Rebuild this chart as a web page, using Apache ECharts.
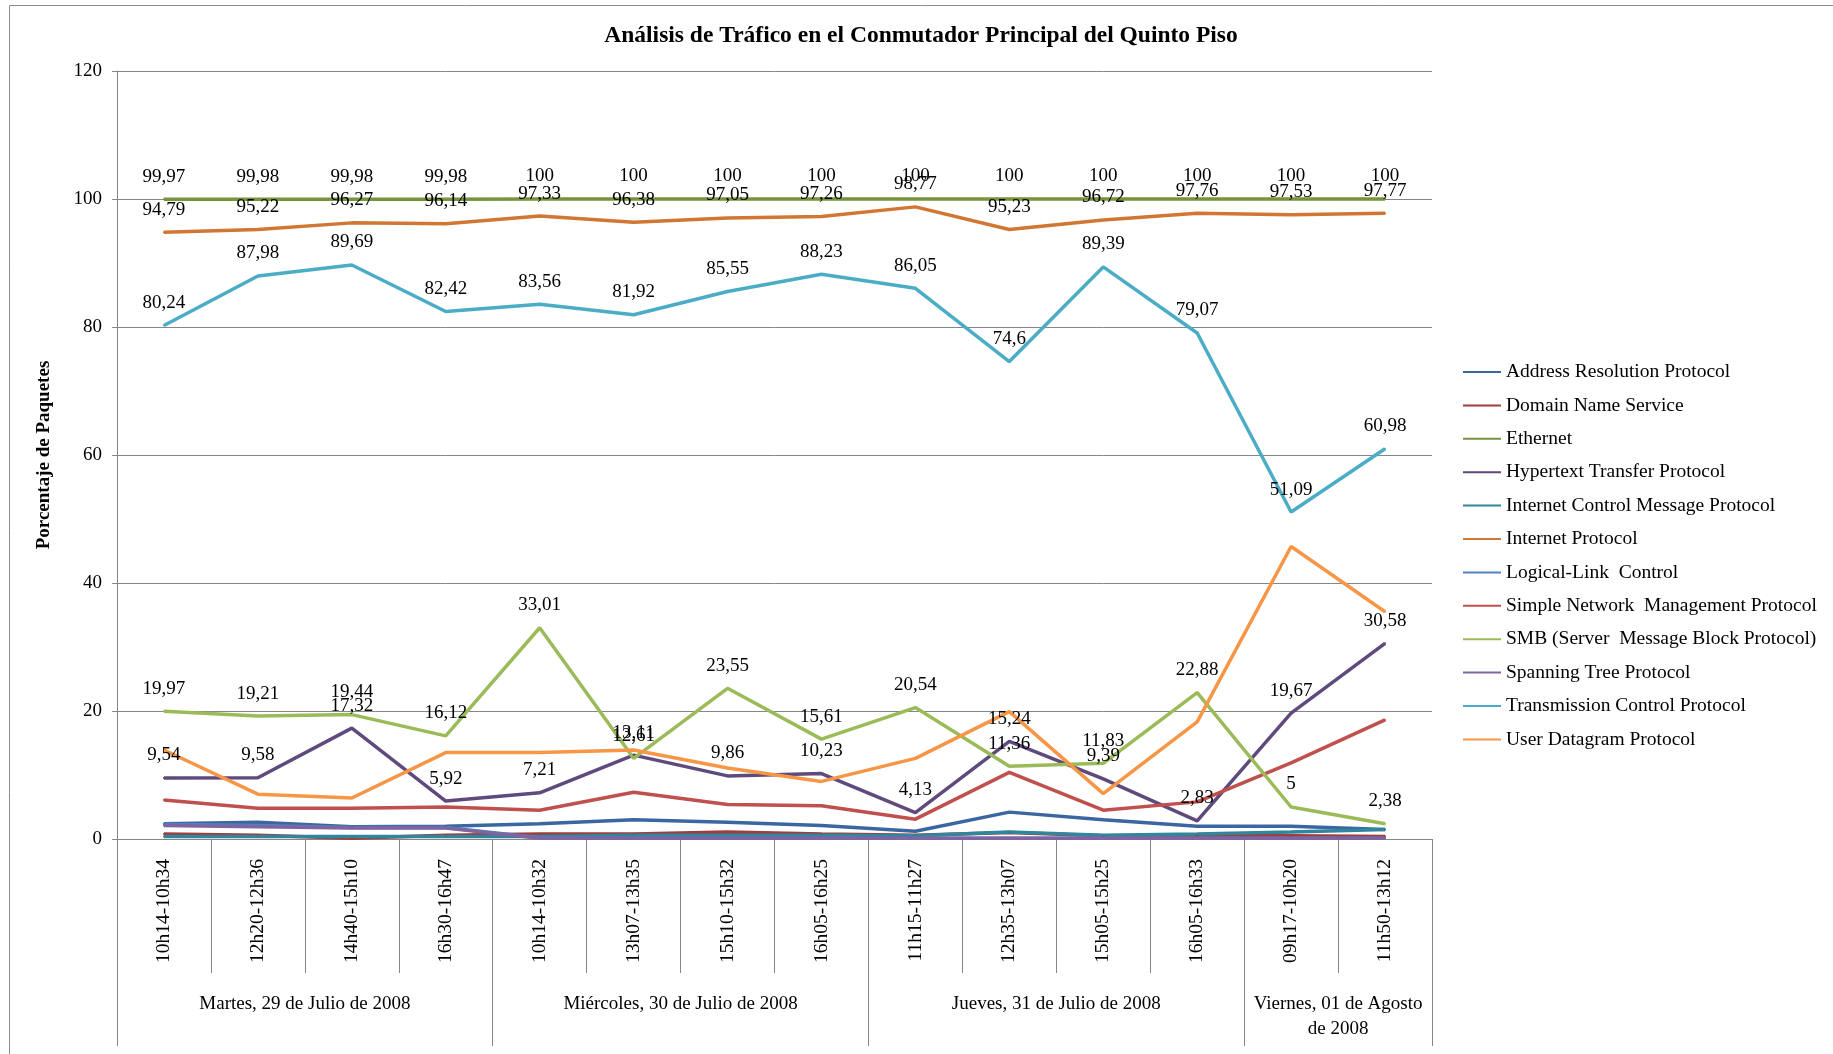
<!DOCTYPE html>
<html>
<head>
<meta charset="utf-8">
<script src="https://cdn.jsdelivr.net/npm/echarts@6/dist/echarts.min.js"></script>
<style>html,body{margin:0;padding:0;background:#fff}#c{width:1833px;height:1054px}</style>
</head>
<body>
<div id="c"></div>
<script>
const title = 'Análisis de Tráfico en el Conmutador Principal del Quinto Piso';
const yName = 'Porcentaje de Paquetes';
const categories = ['10h14-10h34','12h20-12h36','14h40-15h10','16h30-16h47','10h14-10h32','13h07-13h35','15h10-15h32','16h05-16h25','11h15-11h27','12h35-13h07','15h05-15h25','16h05-16h33','09h17-10h20','11h50-13h12'];
const days = ['Martes, 29 de Julio de 2008','Miércoles, 30 de Julio de 2008','Jueves, 31 de Julio de 2008','Viernes, 01 de Agosto\nde 2008'];
const daySpans = [4,4,4,2];
const yTicks = [0,20,40,60,80,100,120];

const seriesNames = ['Address Resolution Protocol','Domain Name Service','Ethernet','Hypertext Transfer Protocol','Internet Control Message Protocol','Internet Protocol','Logical-Link  Control','Simple Network  Management Protocol','SMB (Server  Message Block Protocol)','Spanning Tree Protocol','Transmission Control Protocol','User Datagram Protocol'];
const ARP  = [2.4,2.6,1.9,2.0,2.4,3.0,2.6,2.1,1.2,4.2,3.0,2.0,2.0,1.5];
const DNS  = [0.8,0.6,0.1,0.6,0.8,0.8,1.1,0.8,0.6,1.0,0.5,0.6,0.5,0.4];
const ETH  = [99.97,99.98,99.98,99.98,100,100,100,100,100,100,100,100,100,100];
const HTTP = [9.54,9.58,17.32,5.92,7.21,13.11,9.86,10.23,4.13,15.24,9.39,2.83,19.67,30.58];
const ICMP = [0.4,0.4,0.4,0.4,0.4,0.6,0.6,0.6,0.5,1.1,0.6,0.8,1.1,1.5];
const IP   = [94.79,95.22,96.27,96.14,97.33,96.38,97.05,97.26,98.77,95.23,96.72,97.76,97.53,97.77];
const LLC  = [2.3,2.1,1.8,1.8,0.2,0.1,0.1,0.1,0.1,0.1,0.1,0.1,0.1,0.1];
const SNMP = [6.1,4.8,4.8,5.0,4.5,7.3,5.4,5.2,3.1,10.4,4.5,5.8,11.9,18.6];
const SMB  = [19.97,19.21,19.44,16.12,33.01,12.61,23.55,15.61,20.54,11.36,11.83,22.88,5,2.38];
const STP  = [2.1,1.9,1.7,1.7,0.1,0.1,0.1,0.1,0.1,0.1,0.1,0.1,0.1,0.1];
const TCP  = [80.24,87.98,89.69,82.42,83.56,81.92,85.55,88.23,86.05,74.6,89.39,79.07,51.09,60.98];
const UDP  = [13.9,7.0,6.4,13.5,13.5,13.9,11.1,9.0,12.6,19.9,7.1,18.3,45.7,35.5];

const seriesData = [ARP,DNS,ETH,HTTP,ICMP,IP,LLC,SNMP,SMB,STP,TCP,UDP];
const colors = ['#3A66A1','#A03C3A','#77933C','#5F4A7D','#31859C','#D27633','#4F81BD','#C0504D','#9BBB59','#8064A2','#4BACC6','#F79646'];
const labeled = [false,false,true,true,false,true,false,false,true,false,true,false];

const FONT = '"Liberation Serif", "Times New Roman", serif';
const GRID = '#868686';

// group boundaries / centres for the second-level axis
const bounds = [0]; daySpans.forEach(s => bounds.push(bounds[bounds.length-1] + s));
const centers = daySpans.map((s,i) => bounds[i] + s/2);

const chart = echarts.init(document.getElementById('c'), null, {renderer:'canvas'});
chart.setOption({
  animation: false,
  color: colors,
  title: {
    text: title, left: 916, top: 19, textAlign: 'center',
    textStyle: {fontFamily: FONT, fontWeight: 'bold', fontSize: 23.5, color: '#000'}
  },
  graphic: [{type:'rect', shape:{x:9.5, y:5.5, width:2000, height:2000}, style:{fill:'none', stroke:'#8c8c8c', lineWidth:1}, silent:true}],
  legend: {
    orient: 'vertical', left: 1458, top: 357,
    itemWidth: 38, itemHeight: 20, itemGap: 13.4,
    icon: 'path://M0,9 L38,9 L38,11 L0,11 Z',
    textStyle: {fontFamily: FONT, fontSize: 19.5, color: '#000', lineHeight: 20},
    data: seriesNames
  },
  grid: {left: 117, top: 71, width: 1315, height: 768},
  xAxis: [{
    type: 'category', data: categories, boundaryGap: true,
    axisLine: {lineStyle: {color: GRID, width: 1}},
    axisTick: {show: true, interval: 0, length: 134, lineStyle: {color: GRID}},
    axisLabel: {interval: 0, rotate: 90, margin: 20, fontFamily: FONT, fontSize: 19.5, color: '#000'}
  }, {
    type: 'value', min: 0, max: bounds[bounds.length-1], position: 'bottom',
    axisLine: {show: false}, splitLine: {show: false},
    axisTick: {show: true, customValues: bounds, length: 207, lineStyle: {color: GRID}},
    axisLabel: {
      customValues: centers, margin: 153, verticalAlign: 'top', lineHeight: 25,
      fontFamily: FONT, fontSize: 19, color: '#000', align: 'center',
      formatter: v => { const i = centers.findIndex(c => Math.abs(c - v) < 1e-6); return i >= 0 ? days[i] : ''; }
    }
  }],
  yAxis: {
    type: 'value', min: yTicks[0], max: yTicks[yTicks.length-1], interval: 20,
    name: yName, nameLocation: 'middle', nameRotate: 90, nameGap: 63,
    nameTextStyle: {fontFamily: FONT, fontWeight: 'bold', fontSize: 19, color: '#000'},
    axisLine: {show: true, lineStyle: {color: GRID}},
    axisTick: {show: true, length: 5, lineStyle: {color: GRID}},
    splitLine: {lineStyle: {color: GRID, width: 1}},
    axisLabel: {margin: 15, fontFamily: FONT, fontSize: 19, color: '#000'}
  },
  series: seriesNames.map((n, i) => ({
    name: n, type: 'line', data: seriesData[i], xAxisIndex: 0,
    symbol: 'circle', symbolSize: 2, showSymbol: true, showAllSymbol: true,
    lineStyle: {width: 3.5, color: colors[i]},
    itemStyle: {color: colors[i]},
    label: {
      show: labeled[i], position: 'top', distance: 12,
      fontFamily: FONT, fontSize: 19, color: '#000',
      formatter: p => String(p.value).replace('.', ',')
    }
  }))
});
</script>
</body>
</html>
